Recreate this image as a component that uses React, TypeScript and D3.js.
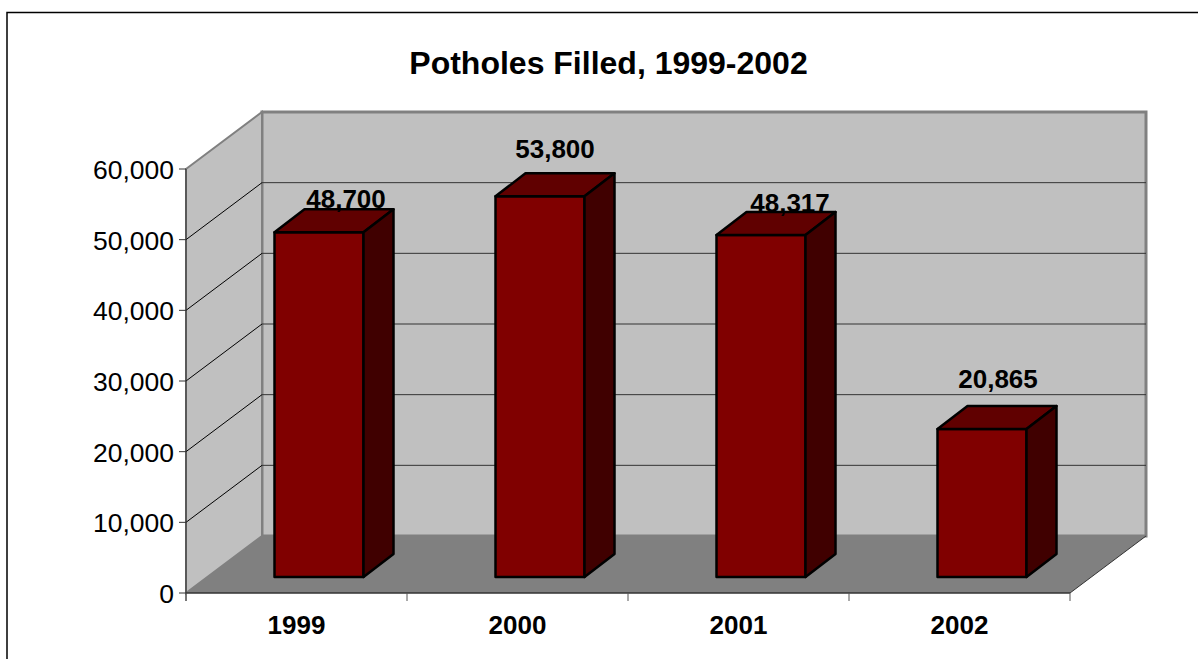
import React from 'react';
import * as d3 from 'd3';

const title = 'Potholes Filled, 1999-2002';
const years = ['1999', '2000', '2001', '2002'];
const potholes = [48700, 53800, 48317, 20865];
const yTicks = [0, 10000, 20000, 30000, 40000, 50000, 60000];

const WIDTH = 1198;
const HEIGHT = 659;
const FONT = '"Liberation Sans", Arial, sans-serif';

// front plane of the 3d box
const x0 = 186;
const x1 = 1070;
const yBottom = 593;
const yTop = 169;
// how far the back wall is shifted
const depthX = 76;
const depthY = 57;
// bar placement inside the floor
const barInsetX = 22.5;
const barInsetY = 16;
const barDepthX = 30;
const barDepthY = 23;
const barWidth = 89;

// the value labels don't sit at a fixed spot above the bars, so nudge each one
const labelDx = [27, 15, 29, 16];
const labelDy = [25, 39, 24, 41.5];

const App = () => {
  const xScale = d3.scaleBand().domain(years).range([x0, x1]);
  const yScale = d3.scaleLinear().domain([0, 60000]).range([yBottom, yTop]);
  const fmt = d3.format(',');

  const poly = d3.line();

  return (
    <svg
      width={WIDTH}
      height={HEIGHT}
      style={{ position: 'absolute', left: 0, top: 0, background: '#fff' }}
      fontFamily={FONT}
    >
      {/* chart frame runs off the right and bottom of the page */}
      <rect x={7} y={12.5} width={1200} height={670} fill="#fff" stroke="#000" strokeWidth={1.5} />

      <text x={608.5} y={74} textAnchor="middle" fontSize={32} fontWeight="bold">
        {title}
      </text>

      {/* back wall */}
      <rect
        x={x0 + depthX}
        y={yTop - depthY}
        width={x1 - x0}
        height={yBottom - yTop}
        fill="#c0c0c0"
        stroke="#808080"
        strokeWidth={3}
      />
      {/* left wall */}
      <path
        d={poly([
          [x0, yTop],
          [x0 + depthX, yTop - depthY],
          [x0 + depthX, yBottom - depthY],
          [x0, yBottom],
        ])! + 'Z'}
        fill="#c0c0c0"
        stroke="#808080"
        strokeWidth={2}
      />
      {/* floor */}
      <path
        d={poly([
          [x0, yBottom],
          [x0 + depthX, yBottom - depthY],
          [x1 + depthX, yBottom - depthY],
          [x1, yBottom],
        ])! + 'Z'}
        fill="#808080"
      />
      <line x1={x1} y1={yBottom} x2={x1 + depthX} y2={yBottom - depthY} stroke="#333" strokeWidth={1} />

      {/* gridlines */}
      {yTicks.slice(1, -1).map((t) => (
        <g key={t} fill="none">
          <line x1={x0} y1={yScale(t)} x2={x0 + depthX} y2={yScale(t) - depthY} stroke="#000" strokeWidth={1} />
          <line
            x1={x0 + depthX}
            y1={yScale(t) - depthY}
            x2={x1 + depthX}
            y2={yScale(t) - depthY}
            stroke="#333"
            strokeWidth={1}
          />
        </g>
      ))}

      {/* axes */}
      <line x1={x0} y1={yTop} x2={x0} y2={yBottom + 8} stroke="#333" strokeWidth={1} />
      <line x1={x0} y1={yBottom} x2={x1} y2={yBottom} stroke="#333" strokeWidth={1.5} />
      {yTicks.map((t) => (
        <g key={t}>
          <line x1={x0 - 7} y1={yScale(t)} x2={x0} y2={yScale(t)} stroke="#333" strokeWidth={1} />
          <text x={x0 - 12} y={yScale(t) + 10} textAnchor="end" fontSize={26.5}>
            {fmt(t)}
          </text>
        </g>
      ))}
      {[...years, ''].map((y, i) => {
        const tx = x0 + i * xScale.bandwidth();
        return <line key={i} x1={tx} y1={yBottom} x2={tx} y2={yBottom + 8} stroke="#555" strokeWidth={1} />;
      })}
      {years.map((y) => (
        <text
          key={y}
          x={xScale(y)! + xScale.bandwidth() / 2}
          y={634}
          textAnchor="middle"
          fontSize={26}
          fontWeight="bold"
        >
          {y}
        </text>
      ))}

      {/* bars */}
      {years.map((y, i) => {
        const left = xScale(y)! + barInsetX + (xScale.bandwidth() - barWidth) / 2;
        const right = left + barWidth;
        const bottom = yBottom - barInsetY;
        const top = yScale(potholes[i]) - barInsetY - 0.5;
        return (
          <g key={y} stroke="#000" strokeWidth={2.5} strokeLinejoin="round">
            <rect x={left} y={top} width={barWidth} height={bottom - top} fill="#800000" />
            <path
              d={poly([
                [left, top],
                [left + barDepthX, top - barDepthY],
                [right + barDepthX, top - barDepthY],
                [right, top],
              ])! + 'Z'}
              fill="#600000"
            />
            <path
              d={poly([
                [right, top],
                [right + barDepthX, top - barDepthY],
                [right + barDepthX, bottom - barDepthY],
                [right, bottom],
              ])! + 'Z'}
              fill="#400000"
            />
          </g>
        );
      })}

      {/* value labels go on top of the bars */}
      {years.map((y, i) => {
        const left = xScale(y)! + barInsetX + (xScale.bandwidth() - barWidth) / 2;
        const top = yScale(potholes[i]) - barInsetY;
        return (
          <text
            key={y}
            x={left + barWidth / 2 + labelDx[i]}
            y={top - labelDy[i]}
            textAnchor="middle"
            fontSize={26}
            fontWeight="bold"
          >
            {fmt(potholes[i])}
          </text>
        );
      })}
    </svg>
  );
};

export default App;
